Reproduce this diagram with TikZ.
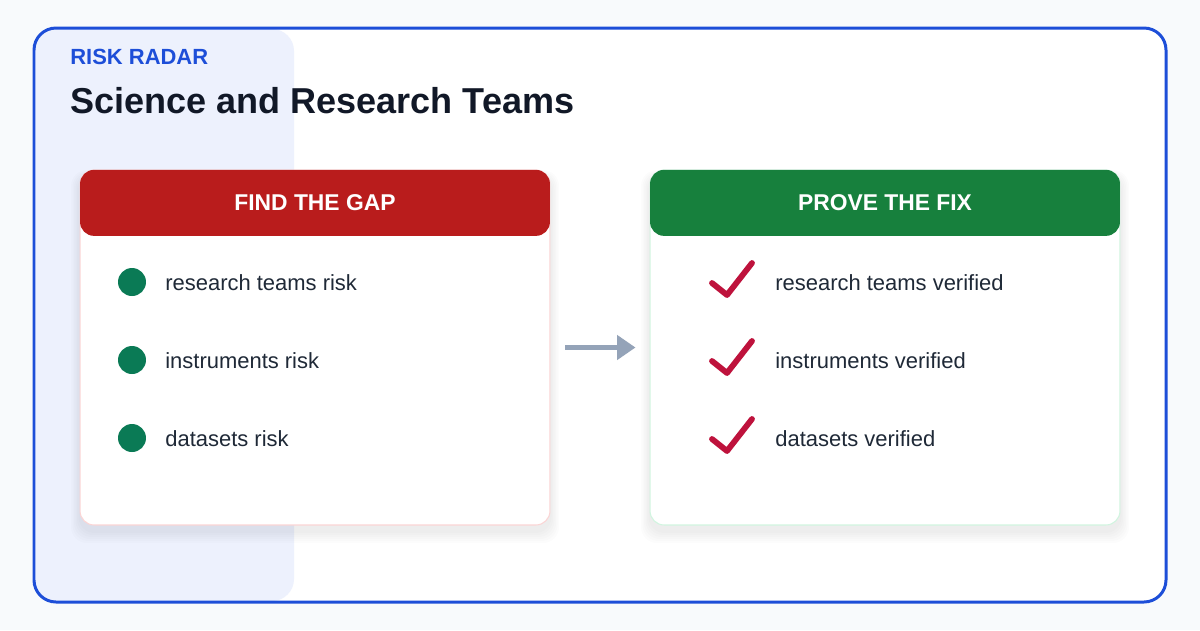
\documentclass[tikz,border=0pt]{standalone}
\usepackage{fontspec}
\setmainfont{Liberation Sans}
\usetikzlibrary{arrows.meta, positioning}
\definecolor{pagebg}{HTML}{F8FAFC}
\definecolor{frameblue}{HTML}{1D4ED8}
\definecolor{panelblue}{HTML}{EDF1FD}
\definecolor{inkdark}{HTML}{111827}
\definecolor{inktext}{HTML}{1F2937}
\definecolor{gapred}{HTML}{B91C1C}
\definecolor{gapline}{HTML}{FBD5D5}
\definecolor{fixgreen}{HTML}{17803D}
\definecolor{fixline}{HTML}{D1F5E0}
\definecolor{dotgreen}{HTML}{0A7A55}
\definecolor{tickred}{HTML}{BE123C}
\definecolor{arrowgray}{HTML}{94A3B8}

\begin{document}
\begin{tikzpicture}[x=0.02cm, y=-0.02cm,
  card/.style={draw=#1, line width=0.6pt, fill=white, rounded corners=0.28cm,
    minimum width=9.4cm, minimum height=7.1cm, inner sep=0pt},
  head/.style={fill=#1, rounded corners=0.28cm, minimum width=9.4cm,
    minimum height=1.32cm, inner sep=0pt, text=white,
    font=\fontsize{13}{15}\selectfont\bfseries},
  item/.style={anchor=base west, inner sep=0pt, text=inktext,
    font=\fontsize{12.5}{14}\selectfont},
  dot/.style={circle, fill=dotgreen, minimum size=0.56cm, inner sep=0pt},
  tick/.style={tickred, line width=3.3pt, line cap=round, line join=round},
  flow/.style={arrowgray, line width=2.9pt,
    -{Triangle[length=0.37cm, width=0.48cm]}}
]
  % Page and frame
  \fill[pagebg] (0,0) rectangle (1200,630);
  \fill[white, rounded corners=0.44cm] (34,28) rectangle (1166,602);
  \fill[panelblue, rounded corners=0.44cm] (35,29) rectangle (294,601);
  \draw[frameblue, line width=1.7pt, rounded corners=0.44cm]
    (34,28) rectangle (1166,602);
  % Heading
  \node[anchor=base west, inner sep=0pt, text=frameblue,
        font=\fontsize{12.5}{14}\selectfont\bfseries] (kicker) at (70,64)
        {RISK RADAR};
  \node[anchor=base west, inner sep=0pt, text=inkdark,
        font=\fontsize{20.5}{24}\selectfont\bfseries] (title) at (70,113)
        {Science and Research Teams};
  % Soft shadows under the cards
  \foreach \cx in {80,650}
    \foreach \k in {1,...,6}
      \fill[black, opacity=0.01, rounded corners=0.32cm]
        (\cx-\k*1.5,170+6-\k) rectangle (\cx+470+\k*1.5,525+6+\k*2);
  % Cards
  \node[card=gapline] (gap) at (315,347.5) {};
  \node[head=gapred, anchor=north] (gaphead) at (gap.north) {FIND THE GAP};
  \node[card=fixline] (fix) at (885,347.5) {};
  \node[head=fixgreen, anchor=north] (fixhead) at (fix.north) {PROVE THE FIX};
  % Risks
  \foreach \t [count=\i] in {research teams risk, instruments risk, datasets risk} {
    \node[dot] (gapd\i) at (132,204+78*\i) {};
    \node[item] (gapi\i) at (165,212+78*\i) {\t};
  }
  % Fixes
  \foreach \t [count=\i] in {research teams verified, instruments verified, datasets verified} {
    \draw[tick] (712,205+78*\i) -- (727,217+78*\i) -- (752,185+78*\i);
    \node[item] (fixi\i) at (775,212+78*\i) {\t};
  }
  % Arrow
  \draw[flow, shorten <=0.3cm, shorten >=0.28cm] (gap) -- (fix);
\end{tikzpicture}
\end{document}
